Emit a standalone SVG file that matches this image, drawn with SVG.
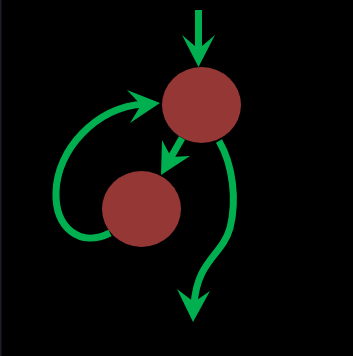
<svg xmlns="http://www.w3.org/2000/svg" width="353" height="356" viewBox="0 0 353 356">
<style>
.bg{fill:#000}
.node{fill:#953735}
.edge{fill:none;stroke:#00b050;stroke-width:7;stroke-linecap:butt}
.head{fill:#00b050}
</style>
<rect class="bg" x="0" y="0" width="353" height="356"/>
<rect x="0" y="0" width="1.5" height="356" fill="#1a1e28"/>
<g id="connectors">
  <g id="e-in">
    <line class="edge" x1="198.5" y1="10" x2="198.5" y2="52"/>
    <polygon class="head" points="182,35 198.5,67 215,35 198.5,49"/>
  </g>
  <g id="e-loop">
    <path class="edge" d="M110,233 C80,248 55,228 56,192 C57,150 95,108 143,104"/>
    <polygon class="head" points="127,90 160,103 130,123 141,105"/>
  </g>
  <g id="e-mid">
    <line class="edge" x1="182" y1="138" x2="170" y2="159"/>
    <polygon class="head" points="162,140 161,175 190,156 171,157"/>
  </g>
  <g id="e-out">
    <path class="edge" d="M219,141 C233,165 237,200 230,228 C222,256 197,260 194,305"/>
    <polygon class="head" points="177,289 193,322 210,291 194,302"/>
  </g>
</g>
<g id="node-top">
  <ellipse class="node" cx="201.5" cy="105" rx="39.5" ry="38"/>
</g>
<g id="node-bottom">
  <ellipse class="node" cx="141.5" cy="209" rx="39.5" ry="38"/>
</g>
</svg>
